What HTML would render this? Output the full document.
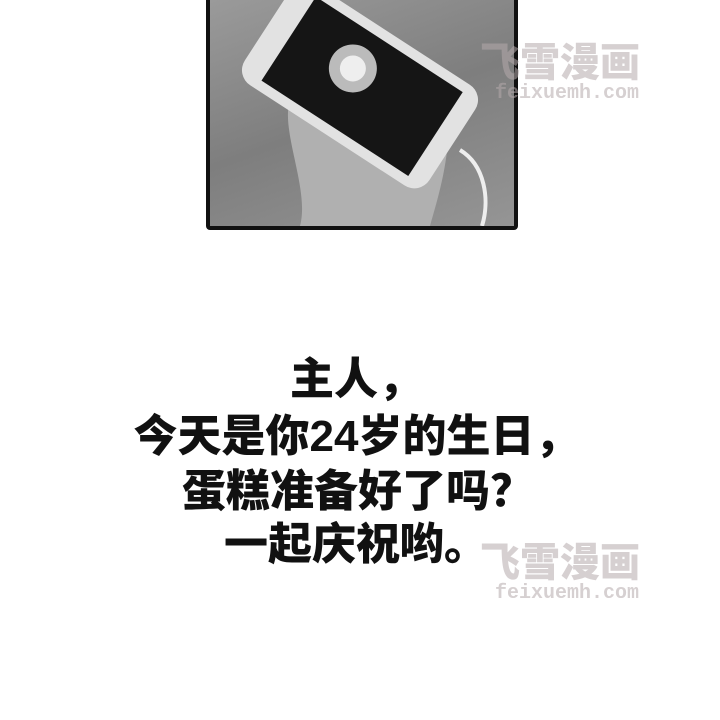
<!DOCTYPE html>
<html><head><meta charset="utf-8"><style>
body{margin:0;width:720px;height:720px;background:#fff;position:relative;overflow:hidden;font-family:"Liberation Sans","Noto Sans CJK SC",sans-serif}
.panel{position:absolute;left:206px;top:-4px;width:304px;height:226px;border:4px solid #111;border-radius:4px;overflow:hidden;background:linear-gradient(160deg,#9a9a9a,#7e7e7e 50%,#959595)}
.txt{position:absolute;left:0;width:720px;text-align:center;font-weight:900;font-size:44px;line-height:64px;color:#111;letter-spacing:0px}
.wm{position:absolute;color:rgba(180,170,172,0.55);font-weight:900}
</style></head><body>
<div class="panel">
 <svg width="304" height="226">
  <path d="M90 226 C100 190 70 130 80 100 L230 70 C250 130 230 190 220 226 Z" fill="#b0b0b0"/>
  <g transform="rotate(33 150 85)">
   <rect x="40" y="25" width="220" height="120" rx="18" fill="#e2e2e2"/>
   <rect x="65" y="35" width="175" height="100" fill="#151515"/>
   <circle cx="135" cy="75" r="24" fill="#bbb"/>
   <circle cx="135" cy="75" r="13" fill="#eee"/>
  </g>
  <path d="M250 150 C275 165 280 200 272 226" stroke="#eee" stroke-width="4" fill="none"/>
 </svg>
</div>
<div class="wm" style="left:480px;top:30px;font-size:40px">飞雪漫画</div>
<div class="wm" style="left:495px;top:82px;font-size:20px;font-family:'Liberation Mono',monospace">feixuemh.com</div>
<div class="wm" style="left:480px;top:530px;font-size:40px">飞雪漫画</div>
<div class="wm" style="left:495px;top:582px;font-size:20px;font-family:'Liberation Mono',monospace">feixuemh.com</div>
<div class="txt" style="top:348px;left:-4px">主人，</div>
<div class="txt" style="top:405px;left:-4px">今天是你24岁的生日，</div>
<div class="txt" style="top:460px;left:-2px">蛋糕准备好了吗？</div>
<div class="txt" style="top:513px;left:-4px">一起庆祝哟。</div>
</body></html>
